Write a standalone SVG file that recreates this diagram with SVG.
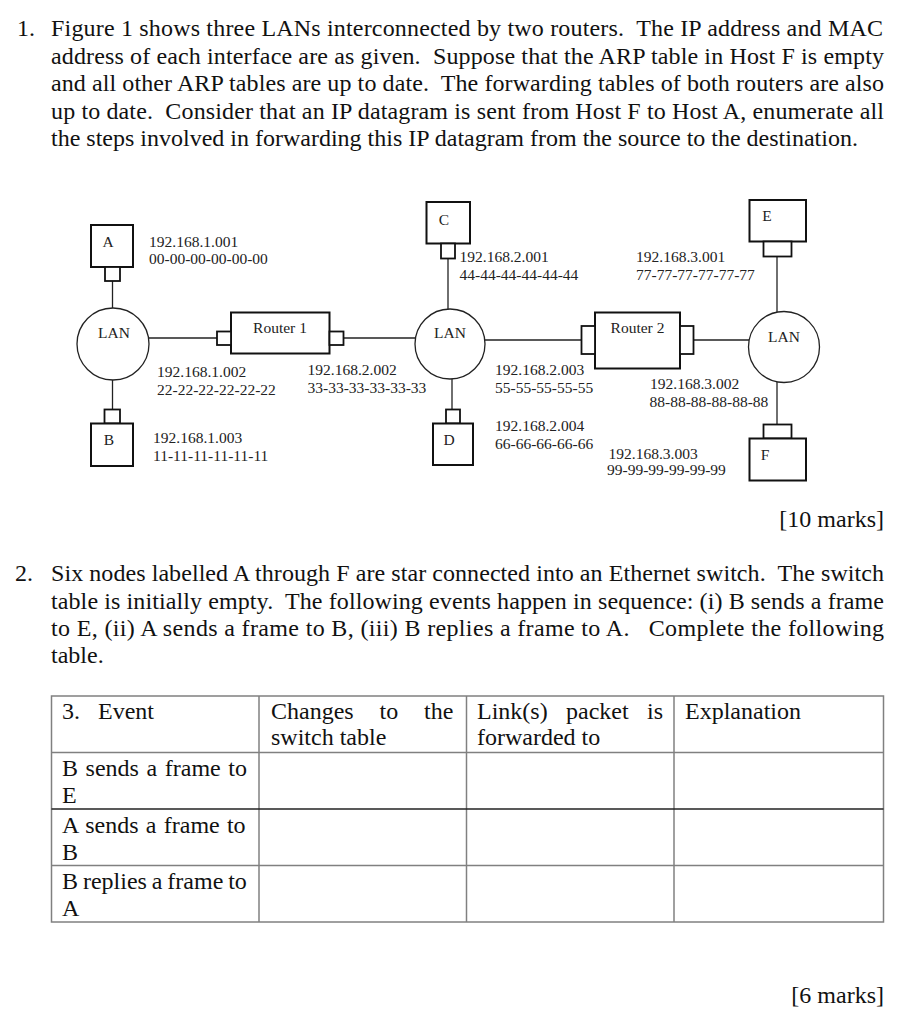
<svg xmlns="http://www.w3.org/2000/svg" width="904" height="1024" viewBox="0 0 904 1024">
<style>
.p{font-family:"Liberation Serif","Times New Roman",serif;font-size:24px;fill:#111}
.d{font-family:"Liberation Serif","Times New Roman",serif;font-size:15.5px;fill:#222}
.box{fill:#fff;stroke:#111;stroke-width:2}
.ifc{fill:#fff;stroke:#111;stroke-width:1.8}
.lan{fill:#fff;stroke:#222;stroke-width:1.3}
.wire{stroke:#222;stroke-width:1.3;fill:none}
.grid{stroke:#808080;stroke-width:1.5;fill:none}
</style>
<rect width="904" height="1024" fill="#fff"/>

<g id="question1">
<text class="p" x="17" y="36">1.</text>
<text class="p" x="51" y="36" xml:space="preserve" textLength="832" lengthAdjust="spacing">Figure 1 shows three LANs interconnected by two routers.  The IP address and MAC</text>
<text class="p" x="51" y="63.5" xml:space="preserve" textLength="833" lengthAdjust="spacing">address of each interface are as given.  Suppose that the ARP table in Host F is empty</text>
<text class="p" x="51" y="91" xml:space="preserve" textLength="833" lengthAdjust="spacing">and all other ARP tables are up to date.  The forwarding tables of both routers are also</text>
<text class="p" x="51" y="118.5" xml:space="preserve" textLength="833" lengthAdjust="spacing">up to date.  Consider that an IP datagram is sent from Host F to Host A, enumerate all</text>
<text class="p" x="51" y="146">the steps involved in forwarding this IP datagram from the source to the destination.</text>
</g>

<g id="connectors">
<line class="wire" x1="112.5" y1="281" x2="112.5" y2="308"/>
<line class="wire" x1="112.5" y1="380" x2="112.5" y2="410"/>
<line class="wire" x1="148.5" y1="338" x2="217" y2="338"/>
<line class="wire" x1="343.5" y1="338" x2="415.5" y2="338"/>
<line class="wire" x1="448" y1="258" x2="448" y2="309"/>
<line class="wire" x1="452" y1="379" x2="452" y2="410"/>
<line class="wire" x1="484.8" y1="340" x2="581.5" y2="340"/>
<line class="wire" x1="693.5" y1="340" x2="749.2" y2="340"/>
<line class="wire" x1="777" y1="256" x2="777" y2="312.3"/>
<line class="wire" x1="777" y1="381.8" x2="777" y2="424.5"/>
</g>

<g id="lan-1">
<circle class="lan" cx="113" cy="344" r="36"/>
<text class="d" x="114" y="338" text-anchor="middle">LAN</text>
</g>
<g id="lan-2">
<circle class="lan" cx="450" cy="344" r="35"/>
<text class="d" x="450" y="338" text-anchor="middle">LAN</text>
</g>
<g id="lan-3">
<circle class="lan" cx="784" cy="347" r="35.5"/>
<text class="d" x="784" y="341.5" text-anchor="middle">LAN</text>
</g>

<g id="host-A">
<rect class="box" x="91" y="225" width="42" height="42"/>
<rect class="ifc" x="105" y="267" width="15" height="14"/>
<text class="d" x="108" y="246.5" text-anchor="middle">A</text>
<text class="d" x="149" y="246.5">192.168.1.001</text>
<text class="d" x="149" y="264">00-00-00-00-00-00</text>
</g>
<g id="host-B">
<rect class="ifc" x="104.5" y="409.5" width="15.5" height="14"/>
<rect class="box" x="91" y="423.5" width="42" height="42.5"/>
<text class="d" x="109" y="445" text-anchor="middle">B</text>
<text class="d" x="153" y="442.5">192.168.1.003</text>
<text class="d" x="153" y="460.5">11-11-11-11-11-11</text>
</g>
<g id="host-C">
<rect class="box" x="426.5" y="202" width="43.5" height="41.5"/>
<rect class="ifc" x="441" y="243.5" width="14" height="15"/>
<text class="d" x="444" y="225" text-anchor="middle">C</text>
<text class="d" x="459.5" y="261.5">192.168.2.001</text>
<text class="d" x="459.5" y="279.5">44-44-44-44-44-44</text>
</g>
<g id="host-D">
<rect class="ifc" x="446" y="409.5" width="14" height="14"/>
<rect class="box" x="433" y="423.5" width="40" height="41.5"/>
<text class="d" x="449" y="445" text-anchor="middle">D</text>
<text class="d" x="495" y="430.5">192.168.2.004</text>
<text class="d" x="495" y="448.5">66-66-66-66-66</text>
</g>
<g id="host-E">
<rect class="box" x="749.5" y="200" width="56.5" height="41.5"/>
<rect class="ifc" x="763.5" y="241.5" width="28" height="15"/>
<text class="d" x="767" y="220.5" text-anchor="middle">E</text>
<text class="d" x="636" y="261.5">192.168.3.001</text>
<text class="d" x="636" y="279.5">77-77-77-77-77-77</text>
</g>
<g id="host-F">
<rect class="ifc" x="763.5" y="424.5" width="28" height="14"/>
<rect class="box" x="749.5" y="438.5" width="56.5" height="42"/>
<text class="d" x="765" y="460" text-anchor="middle">F</text>
<text class="d" x="608.5" y="458.5">192.168.3.003</text>
<text class="d" x="607" y="475">99-99-99-99-99-99</text>
</g>

<g id="router-1">
<rect class="box" x="231" y="312.5" width="98.5" height="41"/>
<rect class="ifc" x="217" y="331.5" width="14" height="13.5"/>
<rect class="ifc" x="329.5" y="331.5" width="14" height="13.5"/>
<text class="d" x="280" y="333.3" text-anchor="middle">Router 1</text>
<text class="d" x="157" y="376.5">192.168.1.002</text>
<text class="d" x="157" y="394.5">22-22-22-22-22-22</text>
<text class="d" x="307.5" y="375">192.168.2.002</text>
<text class="d" x="307.5" y="393">33-33-33-33-33-33</text>
</g>
<g id="router-2">
<rect class="box" x="595" y="312.5" width="85" height="56"/>
<rect class="ifc" x="581.5" y="326" width="13.5" height="28"/>
<rect class="ifc" x="680" y="326" width="13.5" height="28"/>
<text class="d" x="637.5" y="333.3" text-anchor="middle">Router 2</text>
<text class="d" x="495" y="375">192.168.2.003</text>
<text class="d" x="495" y="393">55-55-55-55-55</text>
<text class="d" x="650" y="388.5">192.168.3.002</text>
<text class="d" x="649.5" y="406.5">88-88-88-88-88-88</text>
</g>

<g id="marks-1">
<text class="p" x="884" y="527" text-anchor="end">[10 marks]</text>
</g>

<g id="question2">
<text class="p" x="15" y="581">2.</text>
<text class="p" x="51" y="581" xml:space="preserve" textLength="833" lengthAdjust="spacing">Six nodes labelled A through F are star connected into an Ethernet switch.  The switch</text>
<text class="p" x="51" y="608.5" xml:space="preserve" textLength="833" lengthAdjust="spacing">table is initially empty.  The following events happen in sequence: (i) B sends a frame</text>
<text class="p" x="51" y="635.5" xml:space="preserve" textLength="833" lengthAdjust="spacing">to E, (ii) A sends a frame to B, (iii) B replies a frame to A.   Complete the following</text>
<text class="p" x="51" y="662.5">table.</text>
</g>

<g id="table">
<rect class="grid" x="51.5" y="696" width="832" height="226"/>
<line class="grid" x1="259" y1="696" x2="259" y2="922"/>
<line class="grid" x1="466.5" y1="696" x2="466.5" y2="922"/>
<line class="grid" x1="674" y1="696" x2="674" y2="922"/>
<line class="grid" x1="51.5" y1="752.5" x2="883.5" y2="752.5"/>
<line x1="51.5" y1="809" x2="883.5" y2="809" stroke="#222" stroke-width="1.3"/>
<line class="grid" x1="51.5" y1="865.5" x2="883.5" y2="865.5"/>
<text class="p" x="62" y="719">3.</text>
<text class="p" x="98" y="719">Event</text>
<text class="p" x="271" y="719">Changes</text>
<text class="p" x="379.5" y="719">to</text>
<text class="p" x="424" y="719">the</text>
<text class="p" x="271" y="745">switch table</text>
<text class="p" x="477" y="719">Link(s)</text>
<text class="p" x="566" y="719">packet</text>
<text class="p" x="647" y="719">is</text>
<text class="p" x="477" y="745">forwarded to</text>
<text class="p" x="685" y="719">Explanation</text>
<text class="p" x="62" y="776" word-spacing="1.6">B sends a frame to</text>
<text class="p" x="62" y="803">E</text>
<text class="p" x="62" y="832.5" word-spacing="1.25">A sends a frame to</text>
<text class="p" x="62" y="860">B</text>
<text class="p" x="62" y="889" word-spacing="-1.1">B replies a frame to</text>
<text class="p" x="62" y="916">A</text>
</g>

<g id="marks-2">
<text class="p" x="884" y="1003" text-anchor="end">[6 marks]</text>
</g>
</svg>
